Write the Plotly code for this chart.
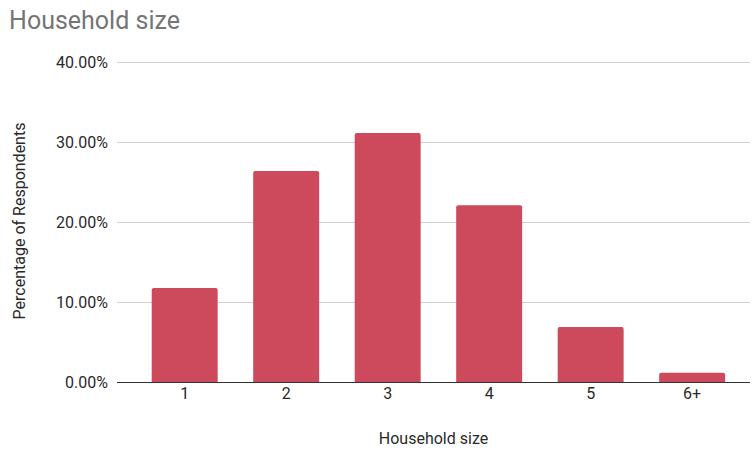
import plotly.graph_objects as go

categories = ["1", "2", "3", "4", "5", "6+"]
percentages = [11.74, 26.38, 31.14, 22.09, 6.86, 1.15]
y_ticks = [0, 10, 20, 30, 40]
y_tick_labels = ["0.00%", "10.00%", "20.00%", "30.00%", "40.00%"]

fig = go.Figure(
    go.Bar(
        x=categories,
        y=percentages,
        marker=dict(color="#cc4a5b", cornerradius=2, line=dict(width=0)),
    )
)

fig.update_layout(
    width=754,
    height=452,
    margin=dict(l=117, r=4, t=60, b=70, autoexpand=False),
    paper_bgcolor="white",
    plot_bgcolor="white",
    bargap=0.35,
    showlegend=False,
    font=dict(family="Roboto, Arial, sans-serif", size=16, color="#2a2a2a"),
    title=dict(
        text="Household size",
        x=0.012,
        xanchor="left",
        y=0.955,
        yanchor="middle",
        font=dict(family="Roboto, Arial, sans-serif", size=25, color="#757575"),
    ),
)

fig.update_xaxes(
    type="category",
    range=[-0.667, 5.57],
    showgrid=False,
    showline=False,
    ticks="",
    tickfont=dict(size=16, color="#2a2a2a"),
    title=dict(text="Household size", font=dict(size=16, color="#2a2a2a"), standoff=30),
)

fig.update_yaxes(
    range=[0, 40.25],
    tickvals=y_ticks,
    ticktext=y_tick_labels,
    showgrid=True,
    gridcolor="#d0d0d0",
    gridwidth=1,
    zeroline=True,
    zerolinecolor="#333333",
    zerolinewidth=1,
    ticks="",
    ticklabelstandoff=8,
    tickfont=dict(size=16, color="#2a2a2a"),
    title=dict(text="Percentage of Respondents", font=dict(size=16, color="#2a2a2a"), standoff=26),
)

fig.write_html("out.html")
